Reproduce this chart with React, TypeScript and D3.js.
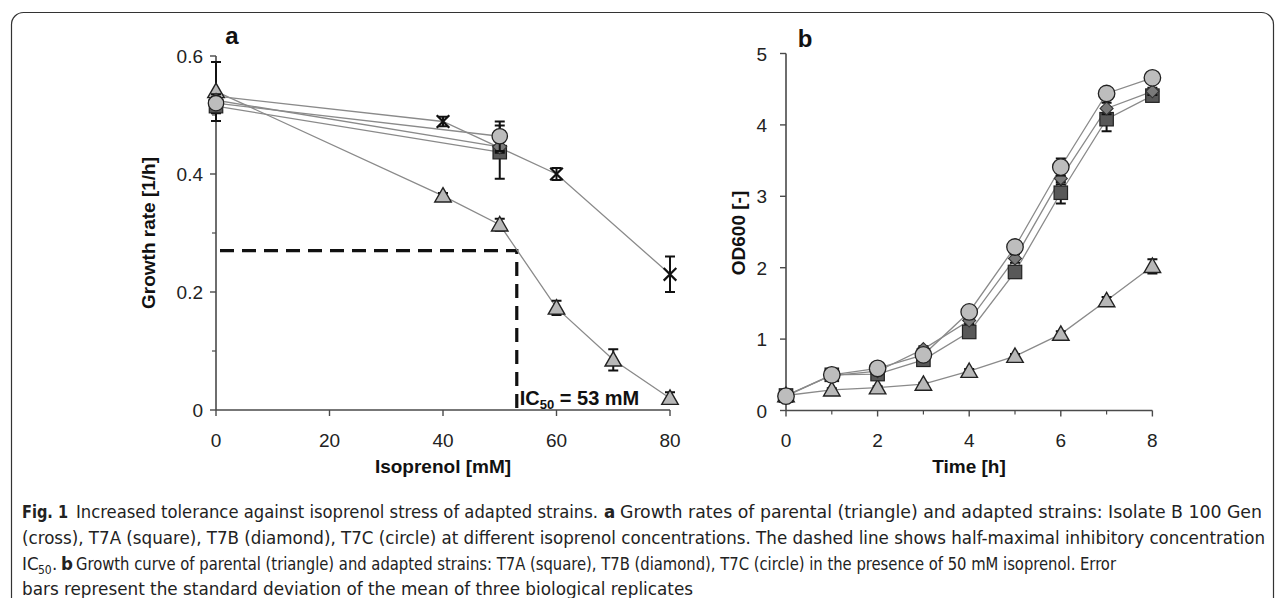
import React from "react";
import * as d3 from "d3";

// Panel a: growth rate vs isoprenol
const concTriangle = [0, 40, 50, 60, 70, 80];
const rateTriangle = [0.54, 0.363, 0.314, 0.173, 0.085, 0.02];
const errTriangle = [0.05, 0.005, 0.01, 0.012, 0.018, 0.01];
const concCross = [0, 40, 60, 80];
const rateCross = [0.532, 0.489, 0.4, 0.23];
const errCross = [0.0, 0.008, 0.01, 0.03];
const concAdapted = [0, 50];
const rateSquare = [0.515, 0.437];
const errSquare = [0.012, 0.045];
const rateDiamond = [0.525, 0.446];
const errDiamond = [0.01, 0.01];
const rateCircle = [0.52, 0.464];
const errCircle = [0.01, 0.025];
const ic50 = 53;
const halfRate = 0.27;
const xTicksA = [0, 20, 40, 60, 80];
const yTicksA = [0, 0.2, 0.4, 0.6];
const yMinorA = [0.1, 0.3, 0.5];

// Panel b: OD600 vs time
const timeB = [0, 1, 2, 3, 4, 5, 6, 7, 8];
const odTriangle = [0.21, 0.29, 0.32, 0.37, 0.55, 0.76, 1.07, 1.54, 2.02];
const odTriErr = [0.02, 0.02, 0.02, 0.02, 0.03, 0.03, 0.04, 0.05, 0.1];
const odSquare = [0.21, 0.5, 0.51, 0.71, 1.1, 1.94, 3.05, 4.08, 4.41];
const odSquareErr = [0.02, 0.03, 0.03, 0.04, 0.05, 0.08, 0.15, 0.17, 0.05];
const odDiamond = [0.21, 0.49, 0.55, 0.86, 1.26, 2.13, 3.25, 4.23, 4.47];
const odDiamondErr = [0.02, 0.03, 0.03, 0.04, 0.05, 0.06, 0.08, 0.08, 0.05];
const odCircle = [0.2, 0.5, 0.59, 0.78, 1.38, 2.29, 3.41, 4.44, 4.66];
const odCircleErr = [0.02, 0.03, 0.03, 0.04, 0.05, 0.06, 0.12, 0.06, 0.05];
const xTicksB = [0, 2, 4, 6, 8];
const xMinorB = [1, 3, 5, 7];
const yTicksB = [0, 1, 2, 3, 4, 5];

const caption1 = "Increased tolerance against isoprenol stress of adapted strains.";
const caption1b = "Growth rates of parental (triangle) and adapted strains: Isolate B 100 Gen";
const caption2 =
  "(cross), T7A (square), T7B (diamond), T7C (circle) at different isoprenol concentrations. The dashed line shows half-maximal inhibitory concentration";
const caption3 =
  "Growth curve of parental (triangle) and adapted strains: T7A (square), T7B (diamond), T7C (circle) in the presence of 50 mM isoprenol. Error";
const caption4 = "bars represent the standard deviation of the mean of three biological replicates";

type Shape = "triangle" | "cross" | "square" | "diamond" | "circle";

const LINE = "#8a8a8a";
const AXIS = "#4a4a4a";

function Marker({ shape, x, y, s }: { shape: Shape; x: number; y: number; s: number }) {
  if (shape === "circle")
    return <circle cx={x} cy={y} r={s * 0.55} fill="#bdbdbd" stroke="#222" strokeWidth={1.3} />;
  if (shape === "square")
    return (
      <rect x={x - s * 0.48} y={y - s * 0.48} width={s * 0.96} height={s * 0.96} fill="#585858" stroke="#222" strokeWidth={1.2} />
    );
  if (shape === "diamond") {
    const h = s * 0.5;
    return <path d={`M${x},${y - h}L${x + h},${y}L${x},${y + h}L${x - h},${y}Z`} fill="#7a7a7a" stroke="#333" strokeWidth={1.1} />;
  }
  if (shape === "triangle") {
    const h = s * 0.55;
    return (
      <path d={`M${x},${y - h}L${x + h},${y + h * 0.75}L${x - h},${y + h * 0.75}Z`} fill="#b8b8b8" stroke="#222" strokeWidth={1.4} />
    );
  }
  const h = s * 0.42;
  return (
    <path d={`M${x - h},${y - h}L${x + h},${y + h}M${x + h},${y - h}L${x - h},${y + h}`} stroke="#111" strokeWidth={2.2} />
  );
}

type SProps = {
  xs: number[]; ys: number[]; errs: number[]; shape: Shape;
  sx: d3.ScaleLinear<number, number>; sy: d3.ScaleLinear<number, number>; size: number; skipFirst?: boolean;
};

function SeriesLine({ xs, ys, sx, sy }: SProps) {
  const pts = xs.map((x, i) => [x, ys[i]] as [number, number]);
  const line = d3.line<[number, number]>().x((d) => sx(d[0])).y((d) => sy(d[1]));
  return <path d={line(pts) || ""} fill="none" stroke={LINE} strokeWidth={1.3} />;
}

function SeriesMarks({ xs, ys, errs, shape, sx, sy, size, skipFirst }: SProps) {
  return (
    <g>
      {xs.map((x, i) => {
        if (skipFirst && i === 0) return null;
        const cx = sx(x);
        const y0 = sy(ys[i] - errs[i]);
        const y1 = sy(ys[i] + errs[i]);
        return (
          <g key={i}>
            {errs[i] > 0 && (
              <path
                d={`M${cx},${y0}V${y1}M${cx - 5},${y0}H${cx + 5}M${cx - 5},${y1}H${cx + 5}`}
                stroke="#111" strokeWidth={2} fill="none"
              />
            )}
            <Marker shape={shape} x={cx} y={sy(ys[i])} s={size} />
          </g>
        );
      })}
    </g>
  );
}

export default function App() {
  const xa = d3.scaleLinear().domain([0, 80]).range([216, 670]);
  const ya = d3.scaleLinear().domain([0, 0.6]).range([410, 56]);
  const xb = d3.scaleLinear().domain([0, 8]).range([786, 1152.4]);
  const yb = d3.scaleLinear().domain([0, 5]).range([410.5, 53.5]);

  const tickFont = { fontFamily: "Liberation Sans, Arial, sans-serif", fontSize: 19, fill: "#222" };
  const titleFont = { fontFamily: "Liberation Sans, Arial, sans-serif", fontSize: 19, fontWeight: 700, fill: "#111" };
  const capFont = "'Liberation Sans Narrow', 'DejaVu Sans Condensed', 'Open Sans', sans-serif";

  const seriesA: Omit<SProps, "sx" | "sy">[] = [
    { xs: concCross, ys: rateCross, errs: errCross, shape: "cross", size: 15, skipFirst: true },
    { xs: concTriangle, ys: rateTriangle, errs: errTriangle, shape: "triangle", size: 15 },
    { xs: concAdapted, ys: rateSquare, errs: errSquare, shape: "square", size: 14 },
    { xs: concAdapted, ys: rateDiamond, errs: errDiamond, shape: "diamond", size: 14 },
    { xs: concAdapted, ys: rateCircle, errs: errCircle, shape: "circle", size: 14 },
  ];
  const seriesB: Omit<SProps, "sx" | "sy">[] = [
    { xs: timeB, ys: odTriangle, errs: odTriErr, shape: "triangle", size: 15 },
    { xs: timeB, ys: odSquare, errs: odSquareErr, shape: "square", size: 14 },
    { xs: timeB, ys: odDiamond, errs: odDiamondErr, shape: "diamond", size: 13 },
    { xs: timeB, ys: odCircle, errs: odCircleErr, shape: "circle", size: 15 },
  ];

  const tickLabelY = 447;
  const titleY = 473;

  return (
    <svg width={1284} height={598} style={{ position: "absolute", left: 0, top: 0, background: "#fff" }}>
      <rect x={11.5} y={12.5} width={1262} height={600} rx={12} fill="none" stroke="#333" strokeWidth={1.2} />

      {/* Panel a */}
      <g>
        <text x={232} y={44} style={{ ...titleFont, fontSize: 24 }} textAnchor="middle">a</text>
        <line x1={216} x2={216} y1={ya(0.6)} y2={ya(0)} stroke={AXIS} strokeWidth={1.6} />
        <line x1={216} x2={670} y1={ya(0)} y2={ya(0)} stroke={AXIS} strokeWidth={1.6} />
        {yTicksA.map((t) => (
          <g key={t}>
            <line x1={210} x2={216} y1={ya(t)} y2={ya(t)} stroke={AXIS} strokeWidth={1.4} />
            <text x={203} y={ya(t) + 7} textAnchor="end" style={tickFont}>{t === 0 ? "0" : t.toFixed(1)}</text>
          </g>
        ))}
        {yMinorA.map((t) => (
          <line key={t} x1={212} x2={216} y1={ya(t)} y2={ya(t)} stroke={AXIS} strokeWidth={1.2} />
        ))}
        {xTicksA.map((t) => (
          <g key={t}>
            <line x1={xa(t)} x2={xa(t)} y1={410} y2={416} stroke={AXIS} strokeWidth={1.4} />
            <text x={xa(t)} y={tickLabelY} textAnchor="middle" style={tickFont}>{t}</text>
          </g>
        ))}
        <text x={443} y={titleY} textAnchor="middle" style={titleFont}>Isoprenol [mM]</text>
        <text transform={`translate(155,233) rotate(-90)`} textAnchor="middle" style={titleFont}>Growth rate [1/h]</text>

        <path
          d={`M${xa(0) + 4},${ya(halfRate)}H${xa(ic50)}V${ya(0)}`}
          fill="none" stroke="#111" strokeWidth={3.2} strokeDasharray="14,8"
        />
        {seriesA.map((s, i) => (
          <SeriesLine key={i} {...s} sx={xa} sy={ya} />
        ))}
        {seriesA.map((s, i) => (
          <SeriesMarks key={i} {...s} sx={xa} sy={ya} />
        ))}
        <text x={xa(ic50) + 3} y={405} style={{ ...titleFont, fontSize: 20 }}>
          IC<tspan fontSize={13} dy={4}>50</tspan><tspan dy={-4}> = 53 mM</tspan>
        </text>
      </g>

      {/* Panel b */}
      <g>
        <text x={805} y={47} style={{ ...titleFont, fontSize: 24 }} textAnchor="middle">b</text>
        <line x1={786} x2={786} y1={yb(5)} y2={yb(0)} stroke={AXIS} strokeWidth={1.6} />
        <line x1={786} x2={1152.4} y1={yb(0)} y2={yb(0)} stroke={AXIS} strokeWidth={1.6} />
        {yTicksB.map((t) => (
          <g key={t}>
            <line x1={780} x2={786} y1={yb(t)} y2={yb(t)} stroke={AXIS} strokeWidth={1.4} />
            <text x={767} y={yb(t) + 7} textAnchor="end" style={tickFont}>{t}</text>
          </g>
        ))}
        {xTicksB.map((t) => (
          <g key={t}>
            <line x1={xb(t)} x2={xb(t)} y1={yb(0)} y2={yb(0) + 6} stroke={AXIS} strokeWidth={1.4} />
            <text x={xb(t)} y={tickLabelY} textAnchor="middle" style={tickFont}>{t}</text>
          </g>
        ))}
        {xMinorB.map((t) => (
          <line key={t} x1={xb(t)} x2={xb(t)} y1={yb(0)} y2={yb(0) + 4} stroke={AXIS} strokeWidth={1.2} />
        ))}
        <text x={969} y={titleY} textAnchor="middle" style={titleFont}>Time [h]</text>
        <text transform={`translate(745,233) rotate(-90)`} textAnchor="middle" style={titleFont}>OD600 [-]</text>
        {seriesB.map((s, i) => (
          <SeriesLine key={i} {...s} sx={xb} sy={yb} />
        ))}
        {seriesB.map((s, i) => (
          <SeriesMarks key={i} {...s} sx={xb} sy={yb} />
        ))}
      </g>

      {/* Caption */}
      <g style={{ fontFamily: capFont, fontSize: 18.5, fill: "#222" }}>
        <text x={22} y={518} fontWeight={700} textLength={46} lengthAdjust="spacingAndGlyphs">Fig. 1</text>
        <text x={76} y={518} textLength={522} lengthAdjust="spacingAndGlyphs">{caption1}</text>
        <text x={604} y={518} fontWeight={700}>a</text>
        <text x={620} y={518} textLength={642} lengthAdjust="spacingAndGlyphs">{caption1b}</text>
        <text x={22} y={544} textLength={1243} lengthAdjust="spacingAndGlyphs">{caption2}</text>
        <text x={22} y={570}>IC</text>
        <text x={38} y={574} fontSize={12}>50</text>
        <text x={52} y={570}>.</text>
        <text x={61} y={570} fontWeight={700}>b</text>
        <text x={76} y={570} textLength={1040} lengthAdjust="spacingAndGlyphs">{caption3}</text>
        <text x={22} y={595} textLength={671} lengthAdjust="spacingAndGlyphs">{caption4}</text>
      </g>
    </svg>
  );
}
